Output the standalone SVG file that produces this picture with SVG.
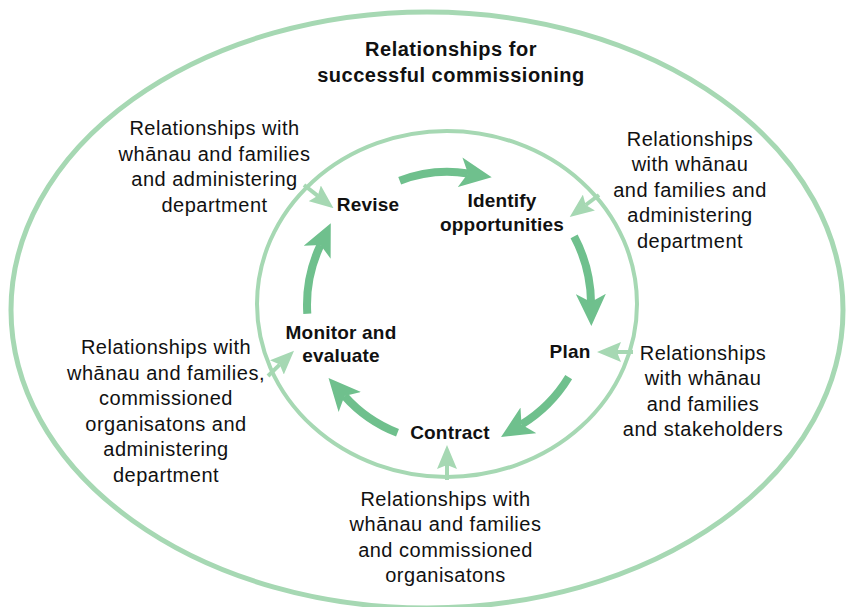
<svg xmlns="http://www.w3.org/2000/svg" width="846" height="607" viewBox="0 0 846 607">
<style>
.ring{fill:none;stroke:#a6d8b3}
.big{fill:none;stroke:#6fc08d;stroke-width:8}
.small{fill:none;stroke:#a6d8b3;stroke-width:4}
text{font-family:"Liberation Sans",Arial,sans-serif;fill:#111;text-anchor:middle}
.t{font-size:20px;font-weight:bold;letter-spacing:0.5px}
.n{font-size:19px;font-weight:bold;letter-spacing:0.2px}
.r{font-size:20px;letter-spacing:0.5px}
</style>
<defs>
<marker id="hb" markerUnits="userSpaceOnUse" markerWidth="32" markerHeight="30" viewBox="0 0 32 30" refX="8" refY="15" orient="auto">
<path d="M0,0 L32,15 L0,30 L8,15 Z" fill="#6fc08d"/>
</marker>
<marker id="hs" markerUnits="userSpaceOnUse" markerWidth="24" markerHeight="20" viewBox="0 0 24 20" refX="4" refY="10" orient="auto">
<path d="M0,0 L24,10 L0,20 L4,10 Z" fill="#a6d8b3"/>
</marker>
</defs>
<g id="outer">
<ellipse class="ring" cx="427" cy="310" rx="416" ry="298" stroke-width="5"/>
<text class="t" x="451" y="56">Relationships for</text>
<text class="t" x="451" y="82">successful commissioning</text>
</g>
<g id="inner">
<ellipse class="ring" cx="447" cy="304" rx="190" ry="173" stroke-width="4"/>
</g>
<g id="connectors">
<path class="big" d="M399.7,180.8 A132,132 0 0 1 468,173.5" marker-end="url(#hb)"/>
<path class="big" d="M574.1,236.4 A144,144 0 0 1 591,302" marker-end="url(#hb)"/>
<path class="big" d="M568.7,377.1 A142,142 0 0 1 521.5,424.5" marker-end="url(#hb)"/>
<path class="big" d="M397.5,432.8 A138,138 0 0 1 344.5,396" marker-end="url(#hb)"/>
<path class="big" d="M307.3,313.8 A140,140 0 0 1 320.5,245" marker-end="url(#hb)"/>
<path class="small" d="M304,185 L317.8,195.8" marker-end="url(#hs)"/>
<path class="small" d="M599,195 L585.7,205" marker-end="url(#hs)"/>
<path class="small" d="M633,352 L617,352" marker-end="url(#hs)"/>
<path class="small" d="M447,480 L447,465" marker-end="url(#hs)"/>
<path class="small" d="M268,376 L279.7,364.6" marker-end="url(#hs)"/>
</g>
<g id="revise"><text class="n" x="368" y="211">Revise</text></g>
<g id="identify"><text class="n" x="502" y="207">Identify</text><text class="n" x="502" y="231">opportunities</text></g>
<g id="plan"><text class="n" x="570" y="358">Plan</text></g>
<g id="contract"><text class="n" x="450" y="439">Contract</text></g>
<g id="monitor"><text class="n" x="341" y="339">Monitor and</text><text class="n" x="341" y="362">evaluate</text></g>
<g id="rel-revise">
<text class="r" x="214.5" y="135">Relationships with</text>
<text class="r" x="214.5" y="160.5">whānau and families</text>
<text class="r" x="214.5" y="186">and administering</text>
<text class="r" x="214.5" y="211.5">department</text>
</g>
<g id="rel-identify">
<text class="r" x="690" y="145.5">Relationships</text>
<text class="r" x="690" y="171">with whānau</text>
<text class="r" x="690" y="196.5">and families and</text>
<text class="r" x="690" y="222">administering</text>
<text class="r" x="690" y="247.5">department</text>
</g>
<g id="rel-plan">
<text class="r" x="703" y="359.5">Relationships</text>
<text class="r" x="703" y="385">with whānau</text>
<text class="r" x="703" y="410.5">and families</text>
<text class="r" x="703" y="436">and stakeholders</text>
</g>
<g id="rel-contract">
<text class="r" x="445.5" y="505.5">Relationships with</text>
<text class="r" x="445.5" y="531">whānau and families</text>
<text class="r" x="445.5" y="556.5">and commissioned</text>
<text class="r" x="445.5" y="582">organisatons</text>
</g>
<g id="rel-monitor">
<text class="r" x="166" y="354">Relationships with</text>
<text class="r" x="166" y="379.5">whānau and families,</text>
<text class="r" x="166" y="405">commissioned</text>
<text class="r" x="166" y="430.5">organisatons and</text>
<text class="r" x="166" y="456">administering</text>
<text class="r" x="166" y="481.5">department</text>
</g>
</svg>
